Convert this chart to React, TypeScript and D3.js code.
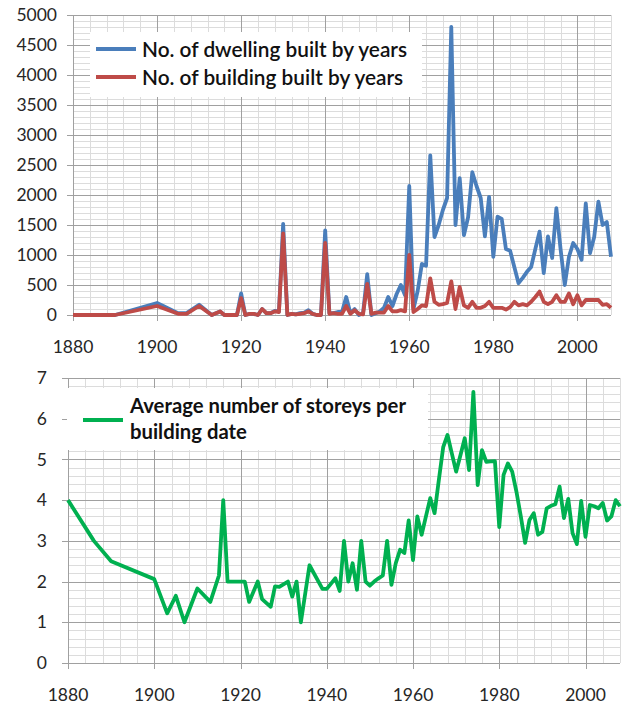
import React from "react";
import * as d3 from "d3";

// ---------- DATA ----------
const topYears = [
  1880, 1890, 1900, 1905, 1907, 1910, 1913, 1915, 1916, 1919,
  1920, 1921, 1922, 1923, 1924, 1925, 1926, 1927, 1928, 1929,
  1930, 1931, 1932, 1933, 1934, 1935, 1936, 1937, 1938, 1939,
  1940, 1941, 1942, 1943, 1944, 1945, 1946, 1947, 1948, 1949,
  1950, 1951, 1952, 1953, 1954, 1955, 1956, 1957, 1958, 1959,
  1960, 1961, 1962, 1963, 1964, 1965, 1966, 1967, 1968, 1969,
  1970, 1971, 1972, 1973, 1974, 1975, 1976, 1977, 1978, 1979,
  1980, 1981, 1982, 1983, 1984, 1985, 1986, 1987, 1988, 1989,
  1990, 1991, 1992, 1993, 1994, 1995, 1996, 1997, 1998, 1999,
  2000, 2001, 2002, 2003, 2004, 2005, 2006, 2007, 2008,
];

const dwellings = [
  0, 0, 200, 30, 30, 170, 0, 60, 0, 0,
  360, 0, 20, 20, 0, 100, 30, 30, 70, 60,
  1520, 0, 20, 10, 30, 40, 80, 20, 0, 0,
  1410, 30, 30, 50, 50, 300, 30, 100, 0, 30,
  680, 0, 30, 60, 120, 300, 150, 350, 500, 330,
  2150, 100, 400, 850, 820, 2660, 1300, 1500, 1750, 1950,
  4800, 1500, 2280, 1330, 1630, 2380, 2150, 1950, 1310, 1970,
  970, 1640, 1600, 1100, 1070, 800, 530, 620, 720, 800,
  1100, 1390, 700, 1310, 950, 1780, 1100, 500, 970, 1200,
  1100, 920, 1860, 1030, 1300, 1890, 1500, 1550, 970,
];

const buildings = [
  0, 0, 150, 20, 20, 150, 0, 60, 0, 0,
  280, 0, 20, 20, 0, 100, 30, 30, 60, 50,
  1360, 0, 20, 10, 20, 30, 60, 20, 0, 0,
  1200, 20, 30, 20, 20, 150, 20, 80, 20, 10,
  520, 20, 40, 40, 40, 150, 60, 60, 80, 60,
  1000, 50, 100, 160, 150, 610, 220, 170, 180, 200,
  560, 100, 470, 160, 120, 220, 120, 120, 150, 220,
  120, 120, 120, 90, 130, 220, 160, 180, 160, 220,
  300, 390, 220, 180, 220, 330, 220, 220, 360, 180,
  330, 160, 250, 250, 250, 250, 170, 180, 120,
];

const storeyYears = [
  1880, 1886, 1890, 1900, 1903, 1905, 1907, 1910, 1913, 1915,
  1916, 1917, 1921, 1922, 1924, 1925, 1927, 1928, 1929, 1931,
  1932, 1933, 1934, 1936, 1939, 1940,
  1941, 1942, 1943, 1944, 1945, 1946, 1947, 1948, 1949,
  1950, 1951, 1952, 1953, 1954, 1955, 1956, 1957, 1958, 1959,
  1960, 1961, 1962, 1963, 1964, 1965, 1966, 1967, 1968, 1969,
  1970, 1971, 1972, 1973, 1974, 1975, 1976, 1977, 1978, 1979,
  1980, 1981, 1982, 1983, 1984, 1985, 1986, 1987, 1988, 1989,
  1990, 1991, 1992, 1993, 1994, 1995, 1996, 1997, 1998, 1999,
  2000, 2001, 2002, 2003, 2004, 2005, 2006, 2007, 2008,
];

const storeys = [
  4.0, 3.0, 2.5, 2.06, 1.22, 1.65, 1.0, 1.83, 1.5, 2.15,
  4.0, 2.0, 2.0, 1.5, 2.0, 1.57, 1.38, 1.88, 1.87, 2.0,
  1.63, 2.0, 1.0, 2.4, 1.82, 1.82,
  1.95, 2.08, 1.77, 3.0, 2.0, 2.45, 1.8, 3.0, 2.0,
  1.9, 2.0, 2.08, 2.15, 3.0, 1.92, 2.45, 2.78, 2.7, 3.5,
  2.53, 3.6, 3.15, 3.6, 4.05, 3.68, 4.5, 5.3, 5.6, 5.15,
  4.7, 5.1, 5.52, 4.74, 6.66, 4.37, 5.23, 4.94, 4.95, 4.96,
  3.34, 4.62, 4.9, 4.7, 4.2, 3.6, 2.95, 3.51, 3.68, 3.15,
  3.22, 3.8, 3.86, 3.9, 4.33, 3.56, 4.03, 3.19, 2.92, 3.98,
  3.1, 3.88, 3.85, 3.8, 3.93, 3.5, 3.6, 4.0, 3.85,
];

const xTickLabels = [1880, 1900, 1920, 1940, 1960, 1980, 2000];
const topYTicks = [0, 500, 1000, 1500, 2000, 2500, 3000, 3500, 4000, 4500, 5000];
const botYTicks = [0, 1, 2, 3, 4, 5, 6, 7];

const legendTop = ["No. of dwelling built by years", "No. of building built by years"];
const legendBottom = ["Average number of storeys per", "building date"];

const BLUE = "#4a7ebb";
const RED = "#be4b48";
const GREEN = "#00b050";
const MAJOR = "#a0a0a0";
const MINOR = "#dcdcdc";
const FONT = "Lato, 'Open Sans', sans-serif";

function range(a: number, b: number, step: number) {
  const out: number[] = [];
  for (let v = a; v <= b + 1e-9; v += step) out.push(+v.toFixed(6));
  return out;
}

function Panel(props: {
  x: d3.ScaleLinear<number, number>;
  y: d3.ScaleLinear<number, number>;
  yMinorStep: number;
  yMajor: number[];
  yFormat: (v: number) => string;
  yLabelRight: number;
  xLabelY: number;
}) {
  const { x, y, yMinorStep, yMajor, yFormat, yLabelRight, xLabelY } = props;
  const [x0, x1] = x.range();
  const [y0, y1] = y.range();
  const [d0, d1] = y.domain();
  const minorY = range(d0, d1, yMinorStep);
  const minorX = range(1880, 2008, 4);
  const majorX = range(1880, 2000, 20);
  return (
    <g>
      {minorY.map((v, i) => (
        <line key={"hy" + i} x1={x0} x2={x1} y1={Math.round(y(v)) + 0.5} y2={Math.round(y(v)) + 0.5} stroke={MINOR} strokeWidth={1} />
      ))}
      {minorX.map((v, i) => (
        <line key={"vx" + i} x1={Math.round(x(v)) + 0.5} x2={Math.round(x(v)) + 0.5} y1={y1} y2={y0} stroke={MINOR} strokeWidth={1} />
      ))}
      {yMajor.map((v, i) => (
        <line key={"HY" + i} x1={x0 - 6} x2={x1} y1={Math.round(y(v)) + 0.5} y2={Math.round(y(v)) + 0.5} stroke={MAJOR} strokeWidth={1} />
      ))}
      {majorX.map((v, i) => (
        <line key={"VX" + i} x1={Math.round(x(v)) + 0.5} x2={Math.round(x(v)) + 0.5} y1={y1} y2={y0 + 6} stroke={MAJOR} strokeWidth={1} />
      ))}
      {yMajor.map((v, i) => (
        <text key={"ly" + i} x={yLabelRight} y={y(v)} dy="0.35em" textAnchor="end" fontFamily={FONT} fontSize={17.5} fill="#262626">
          {yFormat(v)}
        </text>
      ))}
      {xTickLabels.map((v, i) => (
        <text key={"lx" + i} x={x(v)} y={xLabelY} textAnchor="middle" fontFamily={FONT} fontSize={17.5} fill="#262626">
          {v}
        </text>
      ))}
    </g>
  );
}

export default function App() {
  const xTop = d3.scaleLinear().domain([1880, 2008]).range([73, 611]);
  const yTop = d3.scaleLinear().domain([0, 5000]).range([315, 15]);
  const xBot = d3.scaleLinear().domain([1880, 2008]).range([68, 620]);
  const yBot = d3.scaleLinear().domain([0, 7]).range([663, 378]);

  const topLine = (vals: number[]) =>
    d3.line<number>().x((_, i) => xTop(topYears[i])).y((d) => yTop(d))(vals) || "";
  const botLine =
    d3.line<number>().x((_, i) => xBot(storeyYears[i])).y((d) => yBot(d))(storeys) || "";

  return (
    <svg width={622} height={705} style={{ position: "absolute", left: 0, top: 0, background: "#fff" }}>
      <rect x={0} y={0} width={622} height={705} fill="#fff" />
      {/* Top panel */}
      <Panel x={xTop} y={yTop} yMinorStep={100} yMajor={topYTicks} yFormat={(v) => String(v)} yLabelRight={57} xLabelY={353} />
      <rect x={90} y={32} width={332} height={65} fill="#fff" />
      <line x1={96} x2={136} y1={49} y2={49} stroke={BLUE} strokeWidth={4} />
      <line x1={96} x2={136} y1={77} y2={77} stroke={RED} strokeWidth={4} />
      <text x={142} y={57} fontFamily={FONT} fontSize={20.8} fontWeight={600} fill="#111">{legendTop[0]}</text>
      <text x={142} y={85} fontFamily={FONT} fontSize={20.8} fontWeight={600} fill="#111">{legendTop[1]}</text>
      <path d={topLine(dwellings)} fill="none" stroke={BLUE} strokeWidth={3.8} strokeLinejoin="round" />
      <path d={topLine(buildings)} fill="none" stroke={RED} strokeWidth={3.8} strokeLinejoin="round" />

      {/* Bottom panel */}
      <Panel x={xBot} y={yBot} yMinorStep={0.2} yMajor={botYTicks} yFormat={(v) => String(v)} yLabelRight={47} xLabelY={701} />
      <rect x={67} y={388} width={361} height={62} fill="#fff" />
      <line x1={83} x2={123} y1={420} y2={420} stroke={GREEN} strokeWidth={4} />
      <text x={130} y={413} fontFamily={FONT} fontSize={20.3} fontWeight={700} fill="#111">{legendBottom[0]}</text>
      <text x={130} y={439} fontFamily={FONT} fontSize={20.3} fontWeight={700} fill="#111">{legendBottom[1]}</text>
      <path d={botLine} fill="none" stroke={GREEN} strokeWidth={3.8} strokeLinejoin="round" />
    </svg>
  );
}
